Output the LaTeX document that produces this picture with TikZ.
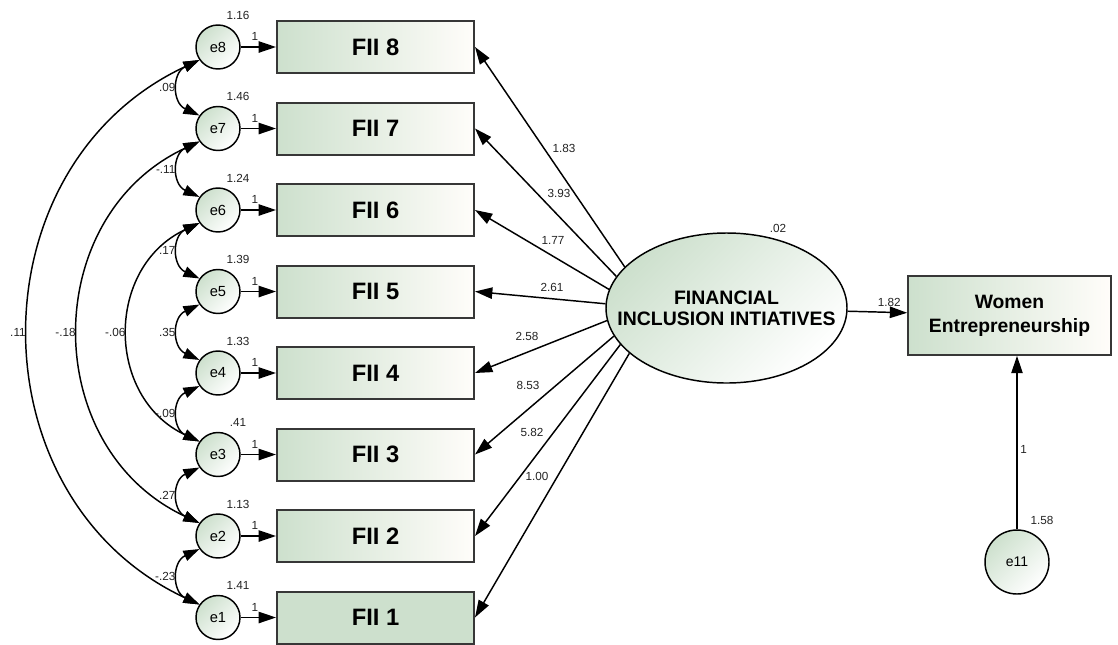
\documentclass[tikz,border=0pt]{standalone}
\usepackage{fontspec}
\setmainfont{Liberation Sans}
\usetikzlibrary{arrows.meta, shapes.geometric}
\definecolor{fiigreen}{RGB}{205,224,205}
\definecolor{fiiwhite}{RGB}{255,253,250}
\definecolor{boxgray}{RGB}{55,55,55}
\definecolor{numgray}{RGB}{35,35,35}

\begin{document}
\begin{tikzpicture}[x=0.75pt, y=-0.75pt,
  fiibase/.style={
      draw=boxgray, line width=1.5pt, inner sep=0pt,
      minimum width=147.75pt, minimum height=39pt,
      font=\fontsize{17.8}{20}\selectfont\bfseries
  },
  fiibox/.style={fiibase, left color=fiigreen, right color=fiiwhite},
  fiisel/.style={fiibase, fill=fiigreen},
  errc/.style={
      circle, draw, line width=1.1pt, inner sep=0pt, minimum size=33pt,
      left color=fiigreen, right color=white, shading angle=45,
      font=\fontsize{11}{13}\selectfont
  },
  latent/.style={
      ellipse, draw, line width=1.1pt, inner sep=0pt,
      minimum width=180.75pt, minimum height=112.5pt,
      left color=fiigreen, right color=white, shading angle=45
  },
  latlbl/.style={align=center, inner sep=0pt,
      font=\fontsize{14.6}{15.8}\selectfont\bfseries},
  webox/.style={
      draw=boxgray, line width=1.5pt, inner sep=0pt,
      minimum width=152pt, minimum height=59pt, align=center,
      left color=fiigreen, right color=fiiwhite,
      font=\fontsize{14.5}{18}\selectfont\bfseries
  },
  num/.style={font=\fontsize{8.8}{10}\selectfont, text=numgray, inner sep=2pt},
  regr/.style={-{Triangle[length=13pt,width=8.5pt]}, line width=1.1pt},
  cov/.style={{Triangle[length=12pt,width=8pt]}-{Triangle[length=12pt,width=8pt]},
      line width=1.1pt}
]
\useasboundingbox (0,0) rectangle (1118,644);
\def\xE{218}    \def\xB{375.5}
\def\rA{617.5}  \def\rB{536}  \def\rC{454.5}  \def\rD{373}
\def\rE{291.5}  \def\rF{210}  \def\rG{128.5}  \def\rH{47}

% error terms
\node[errc] (e8) at (\xE,\rH) {e8};
\node[errc] (e7) at (\xE,\rG) {e7};
\node[errc] (e6) at (\xE,\rF) {e6};
\node[errc] (e5) at (\xE,\rE) {e5};
\node[errc] (e4) at (\xE,\rD) {e4};
\node[errc] (e3) at (\xE,\rC) {e3};
\node[errc] (e2) at (\xE,\rB) {e2};
\node[errc] (e1) at (\xE,\rA) {e1};

% observed items
\node[fiibox] (f8) at (\xB,\rH) {FII 8};
\node[fiibox] (f7) at (\xB,\rG) {FII 7};
\node[fiibox] (f6) at (\xB,\rF) {FII 6};
\node[fiibox] (f5) at (\xB,\rE) {FII 5};
\node[fiibox] (f4) at (\xB,\rD) {FII 4};
\node[fiibox] (f3) at (\xB,\rC) {FII 3};
\node[fiibox] (f2) at (\xB,\rB) {FII 2};
\node[fiisel] (f1) at (\xB,\rA) {FII 1};

% latent and outcome
\node[latent, label={[latlbl]center:FINANCIAL\\INCLUSION INTIATIVES}] (fii) at (726.5,308) {};
\node[webox] (we) at (1009.5,315.5) {Women\\Entrepreneurship};
\node[errc, minimum size=48pt, font=\fontsize{10.5}{12}\selectfont] (e11) at (1017,562) {e11};

% variances
\path (e8) ++(20,-32) node[num] (v8) {1.16};
\path (e7) ++(20,-32) node[num] (v7) {1.46};
\path (e6) ++(20,-32) node[num] (v6) {1.24};
\path (e5) ++(20,-32) node[num] (v5) {1.39};
\path (e4) ++(20,-32) node[num] (v4) {1.33};
\path (e3) ++(20,-32) node[num] (v3) {.41};
\path (e2) ++(20,-32) node[num] (v2) {1.13};
\path (e1) ++(20,-32) node[num] (v1) {1.41};
\path (fii) ++(51.5,-80) node[num] (vfii) {.02};
\path (e11) ++(25,-42) node[num] (v11) {1.58};

% error paths
\draw[regr] (e8) -- (f8) node[num, pos=0.4, above=2pt] {1};
\draw[regr] (e7) -- (f7) node[num, pos=0.4, above=2pt] {1};
\draw[regr] (e6) -- (f6) node[num, pos=0.4, above=2pt] {1};
\draw[regr] (e5) -- (f5) node[num, pos=0.4, above=2pt] {1};
\draw[regr] (e4) -- (f4) node[num, pos=0.4, above=2pt] {1};
\draw[regr] (e3) -- (f3) node[num, pos=0.4, above=2pt] {1};
\draw[regr] (e2) -- (f2) node[num, pos=0.4, above=2pt] {1};
\draw[regr] (e1) -- (f1) node[num, pos=0.4, above=2pt] {1};

% loadings
\draw[regr] (fii.158.9) -- (f8.east);
\draw[regr] (fii.164.5) -- (f7.east);
\draw[regr] (fii.171.4) -- (f6.east);
\draw[regr] (fii.178.6) -- (f5.east);
\draw[regr] (fii.186.6) -- (f4.east);
\draw[regr] (fii.194.4) -- (f3.east);
\draw[regr] (fii.199.3) -- (f2.east);
\draw[regr] (fii.205.8) -- (f1.east);
\node[num] (l8) at (564,148) {1.83};
\node[num] (l7) at (559,193) {3.93};
\node[num] (l6) at (553,240) {1.77};
\node[num] (l5) at (552,287) {2.61};
\node[num] (l4) at (527,336) {2.58};
\node[num] (l3) at (528,385) {8.53};
\node[num] (l2) at (532,432) {5.82};
\node[num] (l1) at (537,476) {1.00};

\draw[regr] (fii) -- (we) node[num, pos=0.7, above=2pt] {1.82};
\draw[regr] (e11) -- (e11 |- we.south) node[num, pos=0.46, right] {1};

% covariances
\draw[cov] (e8.215) to[bend right=65, looseness=1.4] node[num, left] {.09} (e7.145);
\draw[cov] (e7.215) to[bend right=65, looseness=1.4] node[num, left] {-.11} (e6.145);
\draw[cov] (e6.215) to[bend right=65, looseness=1.4] node[num, left] {.17} (e5.145);
\draw[cov] (e5.215) to[bend right=65, looseness=1.4] node[num, left] {.35} (e4.145);
\draw[cov] (e4.215) to[bend right=65, looseness=1.4] node[num, left] {-.09} (e3.145);
\draw[cov] (e3.215) to[bend right=65, looseness=1.4] node[num, left] {.27} (e2.145);
\draw[cov] (e2.215) to[bend right=65, looseness=1.4] node[num, left] {-.23} (e1.145);
\draw[cov] (e6.215) to[bend right=65, looseness=1.22] node[num, left] {-.06} (e3.145);
\draw[cov] (e7.215) to[bend right=65, looseness=1.19] node[num, left] {-.18} (e2.145);
\draw[cov] (e8.215) to[bend right=65, looseness=1.18] node[num, left] {.11} (e1.145);

\end{tikzpicture}
\end{document}
